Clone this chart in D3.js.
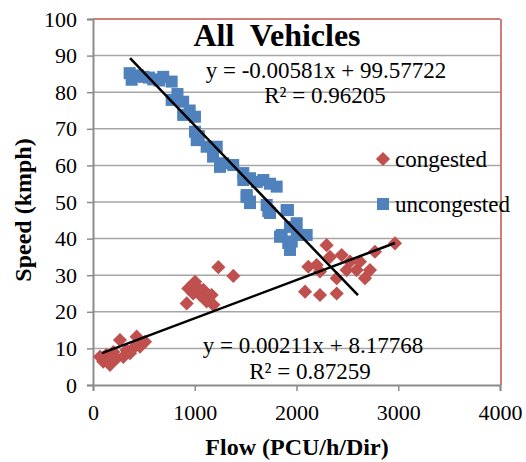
<!DOCTYPE html>
<html>
<head>
<meta charset="utf-8">
<script src="https://d3js.org/d3.v7.min.js"></script>
<style>
  body { margin: 0; background: #fff; }
  svg text { font-family: "Liberation Serif", Tinos, "DejaVu Serif", "Noto Serif", serif; fill: #000; }
</style>
</head>
<body>
<div id="chart"></div>
<script>
// Data
const uncongestedX = [360, 380, 440, 495, 550, 592, 650, 690, 773, 773, 830, 886, 886, 950, 1002, 1002, 1019, 1040, 1117, 1216, 1180, 1248, 1280, 1378, 1477, 1477, 1543, 1610, 1674, 1740, 1805, 1510, 1543, 1510, 1543, 1707, 1740, 1723, 1916, 1903, 1936, 2002, 2002, 1854, 1838, 1953, 1936, 1919, 2100];
const uncongestedY = [85.2, 83.4, 84.6, 84.2, 84, 83.5, 83.2, 84.2, 82.9, 77.9, 79.5, 77.4, 73.8, 75, 73.3, 69.2, 66.9, 68, 65.1, 65.1, 62.4, 59.6, 60.6, 60.1, 57.9, 56, 56.5, 55.5, 56, 55, 54.2, 51.9, 50.1, 51.4, 49.7, 49.2, 47, 47.5, 47.8, 47.8, 43.2, 44.2, 41, 41, 40.5, 39.2, 36.9, 38.8, 41];

const congestedX = [69, 101, 130, 167, 200, 233, 265, 298, 330, 364, 400, 429, 462, 511, 921, 937, 985, 1003, 1019, 1052, 1084, 1117, 1166, 1183, 1232, 1379, 2084, 2116, 2198, 2231, 2231, 2296, 2329, 2395, 2395, 2444, 2493, 2526, 2591, 2624, 2673, 2722, 2771, 2968];
const congestedY = [7.7, 6.4, 8.2, 5.5, 9, 7.3, 12.3, 7.7, 9.5, 8.7, 10.2, 13.2, 10.5, 11.8, 22.3, 26.4, 25, 28.2, 26.9, 24.6, 26, 22.8, 24.6, 21.9, 32.2, 29.8, 25.5, 32.3, 32.8, 24.6, 31, 38.2, 35, 25, 29.2, 35.5, 31.4, 33.7, 31.4, 33.7, 29.2, 31.4, 36.4, 38.7];

// trend lines as drawn in the picture: [slope, intercept, xStart, xEnd]
const trendUncongested = [-0.0289, 99.8, 364, 2604];
const trendCongested = [0.01045, 7.78, 88, 2968];

const xTicks = [0, 1000, 2000, 3000, 4000];
const yTicks = [0, 10, 20, 30, 40, 50, 60, 70, 80, 90, 100];

const W = 526, H = 462;
const margin = { top: 19, right: 26, bottom: 77, left: 93 };
const serif = '"Liberation Serif", Tinos, "DejaVu Serif", "Noto Serif", serif';

const svg = d3.select("#chart").append("svg")
    .attr("width", W)
    .attr("height", H)
    .attr("font-family", serif);

const x = d3.scaleLinear().domain([0, 4000]).range([margin.left, W - margin.right]);
const y = d3.scaleLinear().domain([0, 100]).range([H - margin.bottom, margin.top]);

// gridlines
svg.append("g")
    .selectAll("line")
    .data(yTicks.slice(1))
    .enter()
    .append("line")
    .attr("x1", x(0)).attr("x2", x(4000))
    .attr("y1", d => y(d)).attr("y2", d => y(d))
    .attr("stroke", d => d === 100 ? "#c0504d" : "#a6a6a6")
    .attr("stroke-width", 1.5);

// red border on the right
svg.append("line")
    .attr("x1", x(4000) + 1).attr("x2", x(4000) + 1)
    .attr("y1", y(100)).attr("y2", y(0))
    .attr("stroke", "#c0504d")
    .attr("stroke-width", 1.5);

// axes
const xAxis = svg.append("g")
    .attr("transform", `translate(0,${y(0)})`)
    .call(d3.axisBottom(x).tickValues(xTicks).tickSize(6).tickPadding(13).tickFormat(d3.format("d")));
const yAxis = svg.append("g")
    .attr("transform", `translate(${x(0)},0)`)
    .call(d3.axisLeft(y).tickValues(yTicks).tickSize(6).tickPadding(10));

[xAxis, yAxis].forEach(a => {
    a.attr("font-family", serif).attr("font-size", 22);
    a.select(".domain").attr("stroke", "#8c8c8c").attr("stroke-width", 2);
    a.selectAll(".tick line").attr("stroke", "#8c8c8c").attr("stroke-width", 1.5);
    a.selectAll(".tick text").attr("fill", "#000");
});

// points
svg.append("g")
    .selectAll("rect")
    .data(uncongestedX.map((v, i) => [v, uncongestedY[i]]))
    .enter()
    .append("rect")
    .attr("x", d => x(d[0]) - 6)
    .attr("y", d => y(d[1]) - 6)
    .attr("width", 12)
    .attr("height", 12)
    .attr("fill", "#4f81bd");

const diamond = d3.symbol().type(d3.symbolSquare).size(100);
svg.append("g")
    .selectAll("path")
    .data(congestedX.map((v, i) => [v, congestedY[i]]))
    .enter()
    .append("path")
    .attr("d", diamond)
    .attr("transform", d => `translate(${x(d[0])},${y(d[1])}) rotate(45)`)
    .attr("fill", "#c0504d");

// trend lines
[trendUncongested, trendCongested].forEach(t => {
    svg.append("line")
        .attr("x1", x(t[2])).attr("y1", y(t[0] * t[2] + t[1]))
        .attr("x2", x(t[3])).attr("y2", y(t[0] * t[3] + t[1]))
        .attr("stroke", "#000")
        .attr("stroke-width", 2.5);
});

// title and equations
svg.append("text")
    .attr("x", 277).attr("y", 46)
    .attr("text-anchor", "middle")
    .style("font-size", "32px").style("font-weight", "bold")
    .style("white-space", "pre")
    .text("All  Vehicles");

const labels = [
    ["y = -0.00581x + 99.57722", 326, 78],
    ["R² = 0.96205", 325, 103],
    ["y = 0.00211x + 8.17768", 313, 353],
    ["R² = 0.87259", 310, 379]
];
svg.selectAll(".eq")
    .data(labels)
    .enter()
    .append("text")
    .attr("class", "eq")
    .attr("x", d => d[1]).attr("y", d => d[2])
    .attr("text-anchor", "middle")
    .style("font-size", "23px")
    .text(d => d[0]);

// legend
svg.append("path")
    .attr("d", diamond)
    .attr("transform", "translate(383,159) rotate(45)")
    .attr("fill", "#c0504d");
svg.append("text").attr("x", 395).attr("y", 167)
    .style("font-size", "23px").text("congested");
svg.append("rect")
    .attr("x", 377).attr("y", 198).attr("width", 12).attr("height", 12)
    .attr("fill", "#4f81bd");
svg.append("text").attr("x", 395).attr("y", 212)
    .style("font-size", "23px").text("uncongested");

// axis titles
svg.append("text")
    .attr("transform", "translate(31,210) rotate(-90)")
    .attr("text-anchor", "middle")
    .style("font-size", "24px").style("font-weight", "bold")
    .text("Speed (kmph)");
svg.append("text")
    .attr("x", 297).attr("y", 455)
    .attr("text-anchor", "middle")
    .style("font-size", "24px").style("font-weight", "bold")
    .text("Flow (PCU/h/Dir)");
</script>
</body>
</html>
